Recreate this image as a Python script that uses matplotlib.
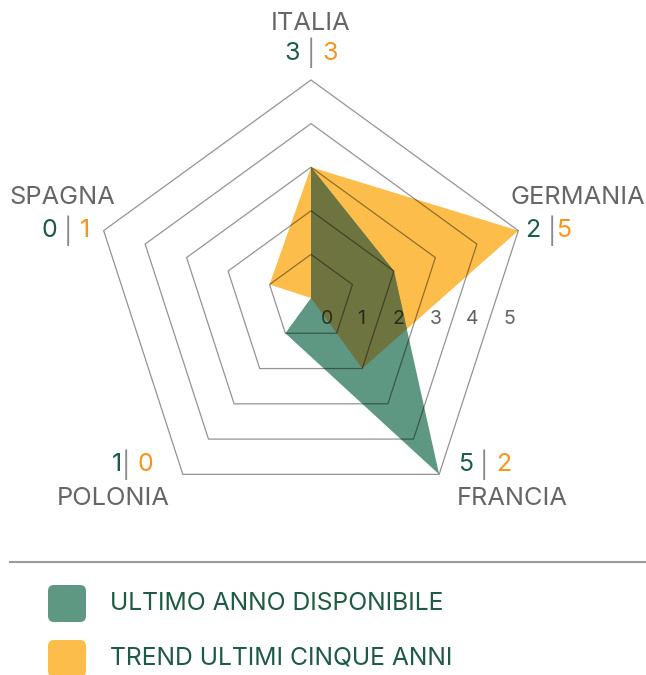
import numpy as np
import matplotlib
matplotlib.use("Agg")
import matplotlib.pyplot as plt
from matplotlib.patches import Polygon, FancyBboxPatch

# --- data -----------------------------------------------------------------
categories = ["ITALIA", "GERMANIA", "FRANCIA", "POLONIA", "SPAGNA"]
ultimo_anno = [3, 2, 5, 1, 0]          # green series
trend_cinque_anni = [3, 5, 2, 0, 1]    # orange series
value_separators = [" | ", " |", " | ", "| ", " | "]
ring_levels = [1, 2, 3, 4, 5]
tick_values = [0, 1, 2, 3, 4, 5]
series_names = ["ULTIMO ANNO DISPONIBILE", "TREND ULTIMI CINQUE ANNI"]

# --- style ----------------------------------------------------------------
GREEN_FILL = "#5f9882"
ORANGE_FILL = "#fdbd4a"
OVERLAP_FILL = "#6e7440"
GREEN_TXT = "#1b5c44"
ORANGE_TXT = "#f7951f"
NAME_TXT = "#666666"
SEP_TXT = "#8a8a8a"
LEGEND_TXT = "#1f5a42"

plt.rcParams["font.family"] = ["Inter", "DejaVu Sans"]

W, H = 646, 675
PX = 43.6            # pixels per radar unit
CX, CY = 311, 298    # radar centre in pixels

fig = plt.figure(figsize=(W / 100, H / 100), dpi=100)
ax = fig.add_axes([0, 0, 1, 1])
ax.set_xlim(-CX / PX, (W - CX) / PX)
ax.set_ylim(-(H - CY) / PX, CY / PX)
ax.axis("off")

theta = np.deg2rad(90 - 72 * np.arange(len(categories)))
ux, uy = np.cos(theta), np.sin(theta)


def pts(vals):
    v = np.asarray(vals, dtype=float)
    return np.column_stack([v * ux, v * uy])


orange = Polygon(pts(trend_cinque_anni), closed=True, fc=ORANGE_FILL, ec="none", zorder=1)
green = Polygon(pts(ultimo_anno), closed=True, fc=GREEN_FILL, ec="none", zorder=2)
overlap = Polygon(pts(ultimo_anno), closed=True, fc=OVERLAP_FILL, ec="none", zorder=3)
ax.add_patch(orange)
ax.add_patch(green)
ax.add_patch(overlap)
overlap.set_clip_path(orange)

for lvl in ring_levels:
    ring = Polygon(pts([lvl] * len(categories)), closed=True, fc="none",
                   ec="black", alpha=0.42, lw=0.9, zorder=4)
    ax.add_patch(ring)

# tick labels sit just right of where each ring's right edge crosses y0
y0 = -21 / PX
a_top, a_bot = np.array([ux[1], uy[1]]), np.array([ux[2], uy[2]])
for k in tick_values:
    if k == 0:
        xe, pad = 0.0, 16 / PX
    else:
        p, q = k * a_top, k * a_bot
        t = (y0 - p[1]) / (q[1] - p[1])
        xe = p[0] + t * (q[0] - p[0])
        pad = 20 / PX
    ax.text(xe + pad, y0, str(k), ha="center", va="center",
            fontsize=14, color="black", alpha=0.62, zorder=5)

# --- category labels ------------------------------------------------------
# (name offset px, value offset px, value alignment) relative to outer vertex
label_layout = [
    ((0, 57), (0, 27), "center"),
    ((59, 33), (7, 0), "left"),
    ((73, -24), (19, 10), "left"),
    ((-70, -24), (-30, 10), "right"),
    ((-41, 33), (-38, 0), "center"),
]

renderer = fig.canvas.get_renderer()


def text_width(s, size):
    t = fig.text(0, 0, s, fontsize=size)
    w = t.get_window_extent(renderer).width
    t.remove()
    return w


NAME_SIZE = 18.3
VAL_SIZE = 18
for i, cat in enumerate(categories):
    vx, vy = 5 * ux[i], 5 * uy[i]
    (nx, ny), (dx, dy), align = label_layout[i]
    ax.annotate(cat, xy=(vx, vy), xytext=(nx, ny), textcoords="offset pixels",
                ha="center", va="center", fontsize=NAME_SIZE, color=NAME_TXT)
    pieces = [(str(ultimo_anno[i]), GREEN_TXT),
              (value_separators[i], SEP_TXT),
              (str(trend_cinque_anni[i]), ORANGE_TXT)]
    widths = [text_width(s, VAL_SIZE) for s, _ in pieces]
    total = sum(widths)
    start = {"left": dx, "center": dx - total / 2, "right": dx - total}[align]
    for (s, c), w in zip(pieces, widths):
        ax.annotate(s, xy=(vx, vy), xytext=(start, dy), textcoords="offset pixels",
                    ha="left", va="center", fontsize=VAL_SIZE, color=c)
        start += w

# --- legend ---------------------------------------------------------------
lg = fig.add_axes([0, 0, 1, 1])
lg.set_xlim(0, W)
lg.set_ylim(H, 0)
lg.axis("off")
lg.plot([10, W], [562, 562], color="#9a9a9a", lw=1.5)
for j, (name, col) in enumerate(zip(series_names, [GREEN_FILL, ORANGE_FILL])):
    top = 585 + 55 * j
    box = FancyBboxPatch((48, top), 38, 37, boxstyle="round,pad=0,rounding_size=6",
                         fc=col, ec="none")
    lg.add_patch(box)
    lg.text(110, top + 18, name, ha="left", va="center", fontsize=17.8, color=LEGEND_TXT)

fig.savefig("out.png", dpi=100)
